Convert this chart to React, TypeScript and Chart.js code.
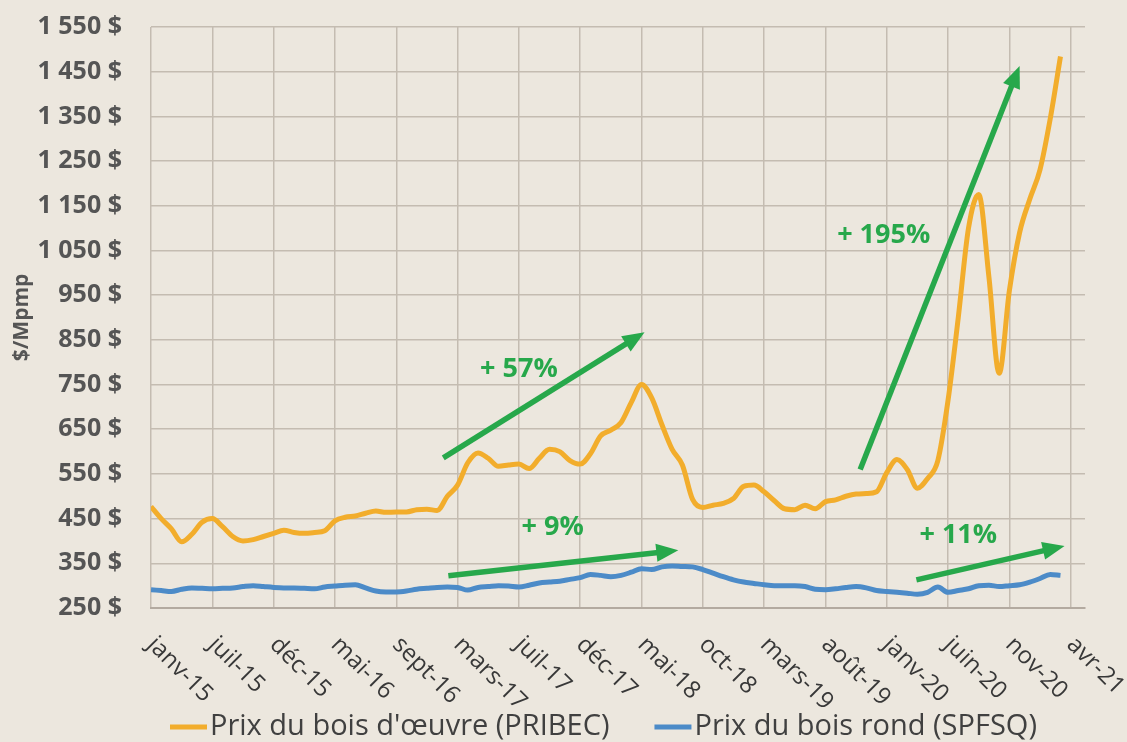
import React, { useEffect, useRef } from "react";
import { Chart, registerables } from "chart.js";

Chart.register(...registerables);

// ---- Data ----
const tickLabels = [
  "janv-15", "juil-15", "déc-15", "mai-16", "sept-16", "mars-17", "juil-17", "déc-17",
  "mai-18", "oct-18", "mars-19", "août-19", "janv-20", "juin-20", "nov-20", "avr-21",
];
const stepsPerLabel = 6;

const seriesNames = ["Prix du bois d'œuvre (PRIBEC)", "Prix du bois rond (SPFSQ)"];

const lumberPrices = [
  477, 450, 427, 398, 415, 442, 450, 432, 410, 400,
  403, 410, 417, 424, 419, 417, 419, 423, 445, 453,
  456, 462, 467, 464, 465, 465, 470, 471, 468, 500,
  525, 575, 597, 585, 567, 570, 572, 562, 585, 605,
  600, 580, 572, 595, 635, 648, 665, 710, 750, 720,
  660, 605, 570, 493, 475, 480, 484, 495, 522, 525,
  510, 490, 472, 470, 480, 472, 488, 492, 500, 505,
  506, 510, 553, 582, 560, 518, 540, 580, 715, 900,
  1100, 1175, 990, 775, 960, 1090, 1165, 1231, 1345, 1484,
];

const roundwoodPrices = [
  291, 289, 287, 292, 295, 294, 293, 294, 295, 298,
  300, 298, 296, 295, 295, 294, 293, 297, 299, 301,
  302, 295, 288, 286, 286, 288, 292, 294, 296, 297,
  296, 290, 296, 298, 300, 299, 297, 301, 306, 308,
  310, 314, 318, 325, 323, 320, 323, 330, 338, 336,
  342, 344, 343, 342, 336, 328, 320, 313, 308, 305,
  302, 300, 300, 300, 298, 292, 291, 293, 296, 298,
  295, 289, 287, 285, 283, 281, 285, 297, 285, 289,
  293, 300, 301, 298, 300, 302, 308, 316, 325, 323,
];

const yMin = 250;
const yMax = 1550;
const yStep = 100;

// annotations (in data units: x = period index, y = $/Mpmp)
const noteLabels = ["+ 57%", "+ 9%", "+ 195%", "+ 11%"];
const noteX = [36.0, 39.3, 71.7, 79.0];
const noteY = [783, 430, 1085, 412];
const arrowStartX = [28.6, 29.1, 69.4, 74.9];
const arrowStartY = [586, 322, 560, 313];
const arrowEndX = [48.3, 51.6, 85.0, 89.4];
const arrowEndY = [867, 379, 1463, 389];

// ---- Styles ----
const BG = "#ECE7DE";
const GRID = "#C4BCB1";
const ORANGE = "#F2AD2C";
const BLUE = "#4C8BC8";
const GREEN = "#27A84B";
const FONT = "'Open Sans', 'DejaVu Sans', sans-serif";

function formatDollar(v: number): string {
  const n = Math.round(v);
  const th = Math.floor(n / 1000);
  const rest = n % 1000;
  const body = th > 0 ? `${th} ${String(rest).padStart(3, "0")}` : String(rest);
  return `${body} $`;
}

const overlayPlugin = {
  id: "overlay",
  afterDatasetsDraw(chart: any) {
    const ctx = chart.ctx as CanvasRenderingContext2D;
    const xs = chart.scales.x;
    const ys = chart.scales.y;
    ctx.save();
    for (let k = 0; k < arrowStartX.length; k++) {
      const x0 = xs.getPixelForValue(arrowStartX[k]);
      const y0 = ys.getPixelForValue(arrowStartY[k]);
      const x1 = xs.getPixelForValue(arrowEndX[k]);
      const y1 = ys.getPixelForValue(arrowEndY[k]);
      const dx = x1 - x0;
      const dy = y1 - y0;
      const len = Math.sqrt(dx * dx + dy * dy);
      const ux = dx / len;
      const uy = dy / len;
      const head = 22;
      const half = 9;
      const bx = x1 - ux * head;
      const by = y1 - uy * head;
      ctx.strokeStyle = GREEN;
      ctx.lineWidth = 5.5;
      ctx.lineCap = "butt";
      ctx.beginPath();
      ctx.moveTo(x0, y0);
      ctx.lineTo(bx + ux * 2, by + uy * 2);
      ctx.stroke();
      ctx.fillStyle = GREEN;
      ctx.beginPath();
      ctx.moveTo(x1, y1);
      ctx.lineTo(bx - uy * half, by + ux * half);
      ctx.lineTo(bx + uy * half, by - ux * half);
      ctx.closePath();
      ctx.fill();
    }
    ctx.fillStyle = GREEN;
    ctx.font = `bold 27px ${FONT}`;
    ctx.textAlign = "center";
    ctx.textBaseline = "middle";
    for (let k = 0; k < noteLabels.length; k++) {
      ctx.fillText(noteLabels[k], xs.getPixelForValue(noteX[k]), ys.getPixelForValue(noteY[k]));
    }
    ctx.restore();
  },
  afterDraw(chart: any) {
    const ctx = chart.ctx as CanvasRenderingContext2D;
    const xs = chart.scales.x;
    const area = chart.chartArea;
    ctx.save();
    ctx.fillStyle = "#383838";
    ctx.font = `24px ${FONT}`;
    ctx.textAlign = "left";
    ctx.textBaseline = "middle";
    tickLabels.forEach((lab, k) => {
      const px = xs.getPixelForValue(k * stepsPerLabel);
      ctx.save();
      ctx.translate(px, area.bottom + 33);
      ctx.rotate(Math.PI / 4);
      ctx.fillText(lab, 0, 0);
      ctx.restore();
    });
    const colors = [ORANGE, BLUE];
    ctx.font = `29px ${FONT}`;
    ctx.textAlign = "left";
    ctx.textBaseline = "middle";
    const ly = 727;
    let lx = 170;
    seriesNames.forEach((name, k) => {
      ctx.strokeStyle = colors[k];
      ctx.lineWidth = 5;
      ctx.beginPath();
      ctx.moveTo(lx, ly);
      ctx.lineTo(lx + 37, ly);
      ctx.stroke();
      ctx.fillStyle = "#404040";
      ctx.fillText(name, lx + 40, ly);
      lx += 40 + ctx.measureText(name).width + 45;
    });
    ctx.restore();
  },
};

export default function App() {
  const canvasRef = useRef<HTMLCanvasElement | null>(null);

  useEffect(() => {
    if (!canvasRef.current) return;
    const chart = new Chart(canvasRef.current, {
      type: "line",
      data: {
        datasets: [
          {
            label: seriesNames[0],
            data: lumberPrices.map((v, i) => ({ x: i, y: v })),
            borderColor: ORANGE,
            backgroundColor: ORANGE,
            borderWidth: 5,
            pointRadius: 0,
            cubicInterpolationMode: "monotone",
            fill: false,
          },
          {
            label: seriesNames[1],
            data: roundwoodPrices.map((v, i) => ({ x: i, y: v })),
            borderColor: BLUE,
            backgroundColor: BLUE,
            borderWidth: 5,
            pointRadius: 0,
            cubicInterpolationMode: "monotone",
            fill: false,
          },
        ],
      },
      options: {
        animation: false,
        responsive: true,
        maintainAspectRatio: false,
        layout: { padding: { top: 27, right: 42, left: 0, bottom: 0 } },
        plugins: {
          legend: { display: false },
          tooltip: { enabled: false },
        },
        scales: {
          x: {
            type: "linear",
            min: 0,
            max: 91.4,
            afterBuildTicks: (s: any) => {
              s.ticks = tickLabels.map((_, k) => ({ value: k * stepsPerLabel }));
            },
            afterFit: (s: any) => {
              s.height = 134;
              s.paddingLeft = 0;
              s.paddingRight = 0;
              s.paddingTop = 0;
              s.paddingBottom = 0;
            },
            ticks: { display: false },
            grid: { color: GRID, lineWidth: 1.5, drawTicks: false },
            border: { color: "#B3AAA0", width: 2 },
          },
          y: {
            min: yMin,
            max: yMax,
            afterFit: (s: any) => {
              s.width = 151;
              s.paddingTop = 0;
              s.paddingBottom = 0;
              s.paddingLeft = 0;
              s.paddingRight = 0;
            },
            ticks: {
              stepSize: yStep,
              padding: 29,
              color: "#555555",
              font: { family: FONT, size: 25, weight: "bold" },
              callback: (v: any) => formatDollar(Number(v)),
            },
            grid: { color: GRID, lineWidth: 1.5, drawTicks: false },
            border: { display: false },
            title: {
              display: true,
              text: "$/Mpmp",
              color: "#555555",
              font: { family: FONT, size: 21, weight: "bold" },
              padding: { top: 9, bottom: 0 },
            },
          },
        },
      },
      plugins: [overlayPlugin],
    } as any);
    return () => chart.destroy();
  }, []);

  return (
    <div
      style={{
        position: "absolute",
        left: 0,
        top: 0,
        width: 1127,
        height: 742,
        background: BG,
      }}
    >
      <canvas ref={canvasRef} />
    </div>
  );
}
